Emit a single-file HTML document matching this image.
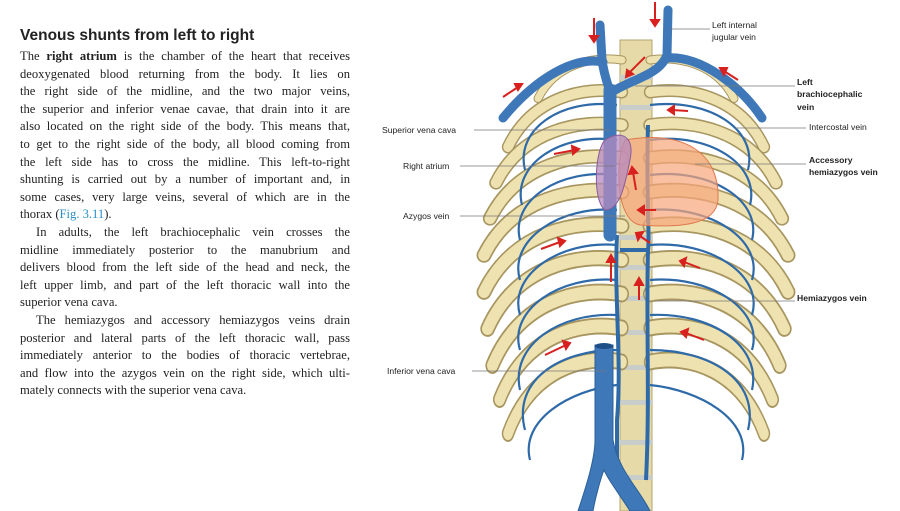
<!DOCTYPE html>
<html><head><meta charset="utf-8"><style>
body{margin:0;width:900px;height:511px;background:#fff;position:relative;overflow:hidden;font-family:"Liberation Serif",serif;color:#222}
h1{position:absolute;left:20px;top:27px;margin:0;font:bold 15.5px "Liberation Sans",sans-serif;color:#222}
.t{position:absolute;left:20px;width:330px;font-size:12.6px;line-height:17.6px;top:48px}
.t div{text-align:justify;text-align-last:justify;white-space:nowrap;height:17.6px}
.t div.l{text-align-last:left}
.t div.i{padding-left:16px}
.f{color:#2a8fc8}
svg{position:absolute;left:0;top:0}
svg text{font-family:"Liberation Sans",sans-serif;font-size:8.6px;fill:#222}
</style></head><body>
<h1>Venous shunts from left to right</h1>
<div class="t">
<div>The <b>right atrium</b> is the chamber of the heart that receives</div>
<div>deoxygenated blood returning from the body. It lies on</div>
<div>the right side of the midline, and the two major veins,</div>
<div>the superior and inferior venae cavae, that drain into it are</div>
<div>also located on the right side of the body. This means that,</div>
<div>to get to the right side of the body, all blood coming from</div>
<div>the left side has to cross the midline. This left-to-right</div>
<div>shunting is carried out by a number of important and, in</div>
<div>some cases, very large veins, several of which are in the</div>
<div class="l">thorax (<span class="f">Fig. 3.11</span>).</div>
<div class="i">In adults, the left brachiocephalic vein crosses the</div>
<div>midline immediately posterior to the manubrium and</div>
<div>delivers blood from the left side of the head and neck, the</div>
<div>left upper limb, and part of the left thoracic wall into the</div>
<div class="l">superior vena cava.</div>
<div class="i">The hemiazygos and accessory hemiazygos veins drain</div>
<div>posterior and lateral parts of the left thoracic wall, pass</div>
<div>immediately anterior to the bodies of thoracic vertebrae,</div>
<div>and flow into the azygos vein on the right side, which ulti-</div>
<div class="l">mately connects with the superior vena cava.</div>
</div>
<svg width="900" height="511" viewBox="0 0 900 511">
<defs>
<g id="rib"><path d="M0,0 C-40,-6 -95,5 -120,55" fill="none" stroke="#a89660" stroke-width="13" stroke-linecap="round"/><path d="M0,0 C-40,-6 -95,5 -120,55" fill="none" stroke="#eee2b0" stroke-width="10" stroke-linecap="round"/></g>
</defs>
<rect x="620" y="40" width="32" height="471" fill="#e6dba8" stroke="#b5a46e"/>
<g fill="#c9cdc9"><rect x="620" y="75" width="32" height="5"/><rect x="620" y="105" width="32" height="5"/><rect x="620" y="235" width="32" height="5"/><rect x="620" y="265" width="32" height="5"/><rect x="620" y="296" width="32" height="5"/><rect x="620" y="330" width="32" height="5"/><rect x="620" y="365" width="32" height="5"/><rect x="620" y="400" width="32" height="5"/><rect x="620" y="440" width="32" height="5"/><rect x="620" y="475" width="32" height="5"/></g>
<g transform="translate(622,60) scale(0.7,0.7)"><use href="#rib"/></g>
<g transform="translate(622,92) scale(0.95,1)"><use href="#rib"/></g>
<g transform="translate(622,125) scale(1.05,1.05)"><use href="#rib"/></g>
<g transform="translate(622,158) scale(1.1,1.1)"><use href="#rib"/></g>
<g transform="translate(622,192) scale(1.15,1.15)"><use href="#rib"/></g>
<g transform="translate(622,226) scale(1.15,1.2)"><use href="#rib"/></g>
<g transform="translate(622,260) scale(1.12,1.25)"><use href="#rib"/></g>
<g transform="translate(622,294) scale(1.08,1.3)"><use href="#rib"/></g>
<g transform="translate(622,328) scale(1.02,1.3)"><use href="#rib"/></g>
<g transform="translate(622,362) scale(0.95,1.3)"><use href="#rib"/></g>
<g transform="translate(650,60) scale(-0.7,0.7)"><use href="#rib"/></g>
<g transform="translate(650,92) scale(-0.95,1)"><use href="#rib"/></g>
<g transform="translate(650,125) scale(-1.05,1.05)"><use href="#rib"/></g>
<g transform="translate(650,158) scale(-1.1,1.1)"><use href="#rib"/></g>
<g transform="translate(650,192) scale(-1.15,1.15)"><use href="#rib"/></g>
<g transform="translate(650,226) scale(-1.15,1.2)"><use href="#rib"/></g>
<g transform="translate(650,260) scale(-1.12,1.25)"><use href="#rib"/></g>
<g transform="translate(650,294) scale(-1.08,1.3)"><use href="#rib"/></g>
<g transform="translate(650,328) scale(-1.02,1.3)"><use href="#rib"/></g>
<g transform="translate(650,362) scale(-0.95,1.3)"><use href="#rib"/></g>
<g fill="none" stroke="#2f6aa8" stroke-width="2.2">
<path d="M617,105 C560,98 515,130 525,170"/><path d="M617,140 C560,132 512,165 522,205"/><path d="M617,175 C560,168 510,200 520,240"/><path d="M617,210 C560,205 508,240 520,280"/><path d="M617,245 C560,240 508,275 520,315"/><path d="M617,280 C560,275 508,310 520,350"/><path d="M617,315 C560,312 510,345 520,390"/><path d="M617,350 C560,350 512,380 525,430"/><path d="M617,385 C570,390 520,420 530,460"/>
<path d="M650,105 C710,98 758,130 748,170"/><path d="M650,140 C710,132 760,165 750,205"/><path d="M650,175 C710,168 762,200 752,240"/><path d="M650,210 C710,205 764,240 752,280"/><path d="M650,245 C710,240 764,275 752,315"/><path d="M650,280 C710,275 764,310 752,350"/><path d="M650,315 C710,312 762,345 752,390"/><path d="M650,350 C710,350 760,380 748,430"/><path d="M650,385 C700,390 752,420 742,460"/>
</g>
<g fill="none" stroke="#2f6aa8" stroke-width="4">
<path d="M617,235 C614,300 622,360 617,420 L617,470"/>
<path d="M648,125 C646,200 650,240 648,250 L620,250"/>
<path d="M648,250 C646,320 650,400 646,480"/>
</g>
<path d="M595,345 L613,345 L613,440 C618,470 640,490 650,511 L630,511 C620,495 608,480 604,470 C600,480 595,500 593,511 L578,511 C585,490 595,460 595,440 Z" fill="#3f78b8" stroke="#2b5f98"/>
<ellipse cx="604" cy="346" rx="9" ry="3" fill="#1e4e86"/>
<g fill="none" stroke="#3f78b8" stroke-linecap="round">
<path d="M610,235 L610,90" stroke-width="13"/>
<path d="M600,25 L602,60 C604,75 608,85 610,92" stroke-width="9"/>
<path d="M668,10 L667,55 C660,75 630,80 612,92" stroke-width="9"/>
<path d="M603,62 C570,55 530,85 503,118" stroke-width="9"/>
<path d="M666,58 C700,55 740,85 762,118" stroke-width="9"/>
</g>
<path d="M625,140 C680,130 720,150 718,200 C716,225 680,228 640,225 C615,220 615,160 625,140 Z" fill="#f6a57a" fill-opacity="0.7" stroke="#e0784e"/>
<path d="M605,140 C620,130 635,135 630,160 C625,185 620,210 605,210 C592,200 595,150 605,140 Z" fill="#b58ac0" fill-opacity="0.75" stroke="#8a5c9a"/>
<g stroke="#d8201e" stroke-width="2" fill="#d8201e">
<path d="M594,18 L594,38"/><path d="M590,36 L594,42 L598,36Z"/>
<path d="M655,2 L655,22"/><path d="M651,20 L655,26 L659,20Z"/>
<path d="M645,57 L630,72"/><path d="M627,70 L626,77 L633,74Z"/>
<path d="M503,97 L518,87"/><path d="M515,84 L522,84 L518,90Z"/>
<path d="M738,80 L724,71"/><path d="M727,68 L720,68 L724,75Z"/>
<path d="M688,111 L672,110"/><path d="M674,106 L668,110 L674,114Z"/>
<path d="M554,154 L575,150"/><path d="M572,146 L579,149 L573,154Z"/>
<path d="M636,190 L633,172"/><path d="M629,174 L632,167 L637,173Z"/>
<path d="M656,210 L642,210"/><path d="M644,206 L638,210 L644,214Z"/>
<path d="M650,243 L640,236"/><path d="M643,232 L636,233 L638,240Z"/>
<path d="M541,249 L560,242"/><path d="M558,238 L565,241 L560,246Z"/>
<path d="M700,268 L684,262"/><path d="M686,258 L680,261 L684,266Z"/>
<path d="M611,282 L611,260"/><path d="M607,262 L611,255 L615,262Z"/>
<path d="M639,300 L639,283"/><path d="M635,285 L639,278 L643,285Z"/>
<path d="M545,355 L566,345"/><path d="M563,341 L570,343 L566,349Z"/>
<path d="M704,340 L686,333"/><path d="M688,329 L681,332 L686,337Z"/>
</g>
<g stroke="#777" stroke-width="0.8">
<line x1="474" y1="130" x2="610" y2="130"/><line x1="460" y1="166" x2="615" y2="166"/>
<line x1="460" y1="216" x2="625" y2="216"/><line x1="472" y1="371" x2="606" y2="371"/>
<line x1="670" y1="29" x2="710" y2="29"/><line x1="635" y1="86" x2="795" y2="86"/>
<line x1="735" y1="128" x2="806" y2="128"/><line x1="695" y1="164" x2="806" y2="164"/>
<line x1="655" y1="301" x2="795" y2="301"/>
</g>
<text x="382" y="133">Superior vena cava</text>
<text x="403" y="169">Right atrium</text>
<text x="403" y="219">Azygos vein</text>
<text x="387" y="374">Inferior vena cava</text>
<text x="712" y="28">Left internal</text><text x="712" y="40">jugular vein</text>
<text x="797" y="85" font-weight="bold">Left</text><text x="797" y="97" font-weight="bold">brachiocephalic</text><text x="797" y="110" font-weight="bold">vein</text>
<text x="809" y="163" font-weight="bold">Accessory</text><text x="809" y="175" font-weight="bold">hemiazygos vein</text>
<text x="797" y="301" font-weight="bold">Hemiazygos vein</text>
<text x="809" y="130">Intercostal vein</text>
</svg>
</body></html>
